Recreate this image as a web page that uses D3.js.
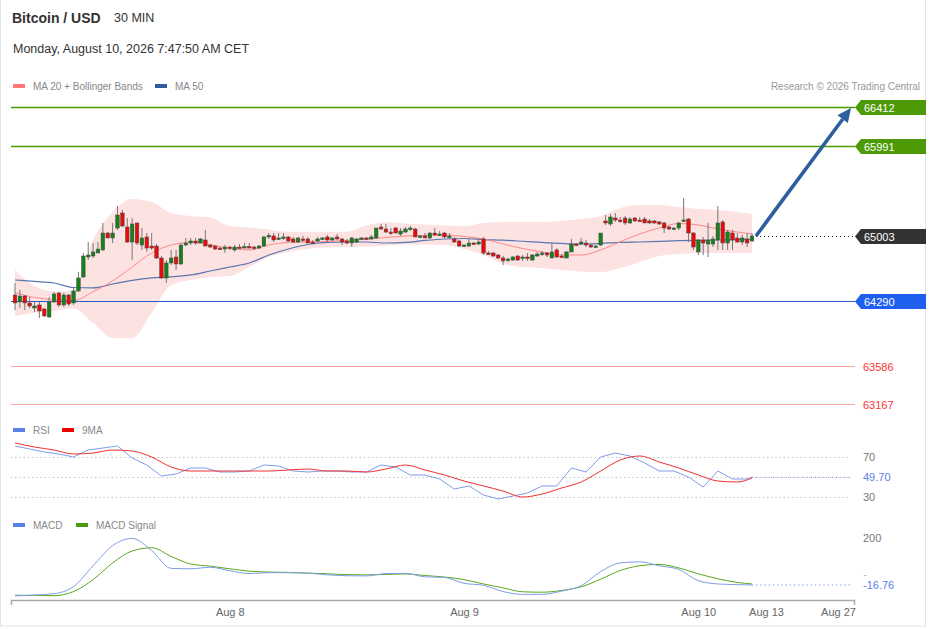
<!DOCTYPE html>
<html>
<head>
<meta charset="utf-8">
<script src="https://cdn.jsdelivr.net/npm/d3@7"></script>
<style>
  body { margin: 0; background: #fff; }
  svg { font-family: "Liberation Sans", Arial, sans-serif; display: block; }
</style>
</head>
<body>
<div id="chart"></div>
<script>
// ---- data ----
// 30 min candles from Aug 7 02:00, [open, high, low, close]
var candles = [
  [64358,64489,64194,64271],[64282,64413,64216,64347],[64347,64358,64194,64271],[64271,64336,64216,64238],
  [64216,64282,64172,64238],[64249,64282,64107,64183],[64205,64216,64118,64129],[64118,64336,64107,64282],
  [64282,64391,64271,64369],[64380,64391,64227,64249],[64249,64380,64227,64358],[64358,64369,64238,64260],
  [64271,64435,64249,64402],[64402,64610,64391,64544],[64555,64817,64544,64784],[64773,64937,64740,64795],
  [64784,64926,64762,64828],[64817,64937,64817,64860],[64850,65145,64839,65035],[65035,65046,64981,64981],
  [64981,65145,64926,65035],[65090,65330,65068,65232],[65254,65287,65101,65112],[65101,65199,64926,64937],
  [64937,65199,64740,65134],[65145,65145,64904,64926],[64904,65090,64850,64981],[64992,65035,64828,64871],
  [64893,65035,64850,64871],[64893,64915,64751,64762],[64762,64784,64533,64544],[64544,64740,64489,64708],
  [64708,64850,64686,64762],[64773,64850,64631,64697],[64697,64926,64686,64904],[64904,64981,64893,64926],
  [64926,64981,64904,64948],[64948,64981,64904,64926],[64926,64981,64926,64970],[64959,65068,64893,64893],
  [64904,64915,64871,64882],[64893,64904,64850,64860],[64871,64882,64850,64860],[64860,64904,64817,64882],
  [64882,64893,64850,64871],[64850,64904,64828,64882],[64882,64915,64860,64871],[64882,64926,64871,64887],
  [64887,64926,64871,64882],[64882,64893,64850,64871],[64871,64904,64860,64893],[64893,65003,64882,64992],
  [64992,65035,64970,65008],[65003,65035,64937,64959],[64970,65035,64959,64981],[64981,65035,64959,64992],
  [64992,65003,64937,64948],[64970,64992,64926,64937],[64937,64992,64926,64981],[64970,65003,64937,64959],
  [64970,64992,64926,64926],[64937,64959,64915,64926],[64948,64992,64937,64970],[64970,64992,64959,64981],
  [64992,65014,64937,64959],[64959,64992,64948,64981],[64992,65024,64959,64970],[64970,64981,64904,64937],
  [64948,64970,64915,64926],[64926,64992,64882,64981],[64937,64981,64926,64970],[64970,64992,64959,64981],
  [64981,64992,64959,64970],[64970,65014,64959,64992],[64981,65090,64970,65090],[65101,65134,65068,65079],
  [65079,65134,65035,65046],[65046,65090,65014,65035],[65090,65101,65035,65035],[65024,65090,65003,65057],
  [65046,65101,65035,65079],[65079,65112,65057,65090],[65079,65090,64992,64992],[64992,65014,64981,65003],
  [65003,65035,64981,64981],[64981,65046,64970,65035],[65035,65090,65003,65014],[65014,65057,65003,65024],
  [65035,65046,64981,64992],[64992,65035,64970,65003],[64970,64992,64926,64937],[64948,64959,64882,64893],
  [64893,64915,64882,64904],[64893,64970,64882,64926],[64926,64937,64904,64915],[64915,64981,64904,64937],
  [64970,64992,64795,64817],[64817,64839,64795,64806],[64817,64828,64773,64784],[64795,64806,64751,64762],
  [64762,64784,64686,64730],[64740,64762,64719,64751],[64740,64784,64730,64773],[64784,64795,64730,64740],
  [64762,64795,64730,64773],[64773,64817,64730,64762],[64740,64806,64730,64795],[64784,64828,64773,64806],
  [64806,64839,64784,64817],[64817,64828,64773,64795],[64762,64926,64762,64828],[64850,64871,64762,64773],
  [64784,64806,64762,64773],[64762,64839,64762,64828],[64828,64970,64828,64915],[64915,64926,64893,64904],
  [64915,64981,64904,64937],[64926,64959,64882,64904],[64904,64915,64871,64882],[64882,64904,64871,64893],
  [64904,65035,64893,65035],[65167,65232,65123,65145],[65134,65243,65112,65210],[65199,65254,65156,65177],
  [65177,65210,65145,65167],[65199,65221,65123,65145],[65145,65210,65134,65188],[65199,65210,65156,65167],
  [65177,65210,65156,65167],[65188,65210,65145,65145],[65167,65188,65134,65145],[65167,65177,65134,65145],
  [65156,65167,65123,65134],[65145,65156,65035,65090],[65101,65112,65068,65079],[65079,65101,65068,65090],
  [65090,65156,65068,65145],[65167,65418,65156,65177],[65188,65199,64937,65035],[65035,65046,64850,64882],
  [64828,64970,64795,64959],[64959,64992,64795,64926],[64915,65145,64773,64959],[64915,65003,64882,64970],
  [64959,65330,64850,65145],[65156,65177,64850,64926],[64926,65068,64850,65046],[65035,65068,64850,64959],
  [64981,65035,64926,64937],[64937,65014,64904,64981],[64970,65035,64882,64926],[64948,65035,64937,65003]
];

// indicator values sampled every 4th candle (last one = final candle)
var ma20 = [64383,64331,64306,64298,64394,64511,64664,64817,64904,64932,64910,64866,64850,64904,64932,64937,
  64943,64954,64967,64986,65003,65008,65014,64997,64970,64915,64866,64828,64795,64795,64850,64940,65025,65090,
  65139,65123,65079,65046,65025];
var ma50 = [64522,64506,64489,64440,64435,64478,64517,64544,64555,64577,64620,64664,64708,64795,64861,64910,
  64932,64937,64937,64926,64932,64954,64970,64975,64964,64957,64945,64932,64921,64915,64921,64932,64937,64943,
  64951,64955,64959,64962,64967];
var bbUpper = [64631,64456,64396,64413,64959,65265,65407,65374,65254,65221,65205,65112,65096,65074,65050,65050,
  65050,65050,65117,65152,65139,65128,65117,65112,65145,65156,65156,65156,65167,65188,65221,65309,65341,65341,
  65319,65298,65287,65265,65243];
var bbLower = [64129,64164,64183,64211,64052,63888,63888,64161,64467,64522,64555,64566,64664,64773,64828,64861,
  64877,64886,64886,64899,64910,64910,64904,64861,64795,64697,64664,64653,64631,64615,64609,64653,64719,64784,
  64806,64817,64817,64817,64817];
var rsiMa = [84,80,77,73,74,77,76,70,60,56,56,56,56,56,57,58,56,56,55,58,62,57,52,46,41,36,30,33,39,45,56,67,
  71,65,59,52,46,45,49];
var macd = [-67,-63,-57,-24,72,165,198,142,60,58,65,49,36,40,40,38,30,26,25,36,37,21,18,-9,-18,-47,-60,-60,
  -45,-20,45,85,90,72,55,3,-12,-15,-16.76];
var macdSignal = [-64,-65,-66,-47,8,85,140,155,115,80,70,58,47,43,41,38,35,31,30,32,34,27,20,8,-12,-30,-48,
  -50,-42,-25,10,50,72,78,62,35,12,-5,-12];

// RSI sampled every 3rd candle (last one = final candle)
var rsi = [81,78,75,73,70,77,79,81,69,62,51,53,59,59,55,55,56,62,61,56,55,56,56,55,55,62,60,52,52,48,38,41,
  32,28,31,34,41,41,59,55,70,74,71,64,56,56,50,40,56,48,48,49.7];

var levels = [66412, 65991, 65003, 64290, 63586, 63167];
var levelKinds = ["resistance", "resistance", "last", "pivot", "support", "support"];
var rsiTicks = [70, 49.70, 30];
var macdTicks = [200, -16.76];
var dateTicks = [new Date(2026,7,8), new Date(2026,7,9), new Date(2026,7,10), new Date(2026,7,13), new Date(2026,7,27)];

// ---- layout ----
var width = 929, height = 629;
var labelX = 855;

var svg = d3.select("#chart").append("svg")
    .attr("width", width)
    .attr("height", height);

svg.append("rect")
    .attr("x", 0.5).attr("y", -2)
    .attr("width", 925).attr("height", 628)
    .attr("fill", "#fff")
    .attr("stroke", "#dfe5ec");

var base = new Date(2026, 7, 7, 0, 0);
function hrs(h) { return new Date(base.getTime() + h * 3600e3); }
function candleTime(i) { return hrs(2 + i * 0.5); }
var last = candles.length - 1;

// polylinear: history gets most of the width, future is compressed
var x = d3.scaleTime()
    .domain([hrs(1.6), hrs(2), candleTime(last), new Date(2026,7,13), new Date(2026,7,27), new Date(2026,7,30)])
    .range([11, 15, 752, 766, 838, 854]);

var y = d3.scaleLinear().domain([63167, 66412]).range([404, 107]);
var yRsi = d3.scaleLinear().domain([30, 70]).range([497, 457]);
var yMacd = d3.scaleLinear().domain([-16.76, 200]).range([585, 538]);

function sampled(arr, step) {
  return arr.map(function (v, k) {
    var i = (k === arr.length - 1) ? last : k * step;
    return { t: candleTime(i), v: v };
  });
}

// ---- header ----
svg.append("text").attr("x", 12).attr("y", 23)
    .attr("font-size", "14px").attr("font-weight", "bold").attr("fill", "#333")
    .text("Bitcoin / USD");
svg.append("text").attr("x", 114).attr("y", 22)
    .attr("font-size", "12.5px").attr("fill", "#333")
    .text("30 MIN");
svg.append("text").attr("x", 13).attr("y", 53)
    .attr("font-size", "12.5px").attr("fill", "#333")
    .text("Monday, August 10, 2026 7:47:50 AM CET");
svg.append("text").attr("x", 920).attr("y", 90)
    .attr("text-anchor", "end").attr("font-size", "10px").attr("fill", "#999")
    .text("Research \u00a9 2026 Trading Central");

function legend(items, yy) {
  var g = svg.append("g");
  items.forEach(function (d) {
    g.append("rect").attr("x", d[0]).attr("y", yy - 2).attr("width", 12).attr("height", 4).attr("fill", d[2]);
    g.append("text").attr("x", d[0] + 20).attr("y", yy + 4)
        .attr("font-size", "10px").attr("fill", "#888").text(d[1]);
  });
}
legend([[13, "MA 20 + Bollinger Bands", "#f77"], [155, "MA 50", "#2f5c9e"]], 86);
legend([[13, "RSI", "#5b80e6"], [62, "9MA", "#e00"]], 430);
legend([[13, "MACD", "#5b80e6"], [76, "MACD Signal", "#4a9a0a"]], 525);

// ---- price panel ----
var bbData = bbUpper.map(function (v, k) {
  var i = (k === bbUpper.length - 1) ? last : k * 4;
  return { t: candleTime(i), hi: v, lo: bbLower[k] };
});
svg.append("path")
    .datum(bbData)
    .attr("fill", "#fde2e2")
    .attr("d", d3.area().curve(d3.curveMonotoneX)
        .x(function (d) { return x(d.t); })
        .y0(function (d) { return y(d.lo); })
        .y1(function (d) { return y(d.hi); }));

var lineP = d3.line().curve(d3.curveMonotoneX)
    .x(function (d) { return x(d.t); })
    .y(function (d) { return y(d.v); });

svg.append("path").datum(sampled(ma50, 4))
    .attr("fill", "none").attr("stroke", "#3b63a6").attr("stroke-width", 1.2).attr("opacity", 0.85)
    .attr("d", lineP);
svg.append("path").datum(sampled(ma20, 4))
    .attr("fill", "none").attr("stroke", "#f88").attr("stroke-width", 1)
    .attr("d", lineP);

// level lines
var levelColor = { resistance: "#4d9a06", last: "#333", pivot: "#1f5ff0", support: "#f33" };
levels.forEach(function (v, k) {
  var kind = levelKinds[k], yy = Math.round(y(v)) + 0.5;
  if (kind === "last") {
    svg.append("line").attr("x1", x(candleTime(last)) + 4).attr("x2", labelX)
        .attr("y1", yy).attr("y2", yy)
        .attr("stroke", "#333").attr("stroke-dasharray", "1,3");
  } else {
    svg.append("line").attr("x1", x.range()[0]).attr("x2", labelX)
        .attr("y1", yy).attr("y2", yy)
        .attr("stroke", kind === "resistance" ? "#4d9a06" : kind === "pivot" ? "#2a5bc8" : "#f7a5a5")
        .attr("stroke-width", kind === "resistance" ? 1.6 : 1);
  }
  if (kind === "support") {
    svg.append("text").attr("x", labelX + 8).attr("y", yy + 4)
        .attr("font-size", "11px").attr("fill", "#f33").text(v);
  } else {
    svg.append("path")
        .attr("d", "M" + labelX + "," + yy + "L" + (labelX + 6) + "," + (yy - 7.5) + "H926V" + (yy + 7.5) + "H" + (labelX + 6) + "Z")
        .attr("fill", levelColor[kind]);
    svg.append("text").attr("x", labelX + 9).attr("y", yy + 4)
        .attr("font-size", "11px").attr("fill", "#fff").text(v);
  }
});

// candles
var bw = 3.6;
var cg = svg.append("g");
cg.selectAll("line.wick")
  .data(candles)
  .enter().append("line")
    .attr("class", "wick")
    .attr("x1", function (d, i) { return x(candleTime(i)); })
    .attr("x2", function (d, i) { return x(candleTime(i)); })
    .attr("y1", function (d) { return y(d[1]); })
    .attr("y2", function (d) { return y(d[2]); })
    .attr("stroke", "#777").attr("stroke-width", 1);
cg.selectAll("rect.body")
  .data(candles)
  .enter().append("rect")
    .attr("class", "body")
    .attr("x", function (d, i) { return x(candleTime(i)) - bw / 2; })
    .attr("y", function (d) { return y(Math.max(d[0], d[3])); })
    .attr("width", bw)
    .attr("height", function (d) { return Math.max(1.5, Math.abs(y(d[0]) - y(d[3]))); })
    .attr("fill", function (d) { return d[3] >= d[0] ? "#16801a" : "#ea0a0a"; })
    .attr("stroke", "#4a4a4a").attr("stroke-width", 0.5);

// projection arrow from last close to the first target
var ax0 = x(candleTime(last)) + 4, ay0 = y(candles[last][3]);
var ax1 = labelX - 4, ay1 = y(levels[0]) + 1;
var ang = Math.atan2(ay1 - ay0, ax1 - ax0), hl = 14, hw = 6.5;
var bx = ax1 - hl * Math.cos(ang), by = ay1 - hl * Math.sin(ang);
svg.append("line").attr("x1", ax0).attr("y1", ay0).attr("x2", bx).attr("y2", by)
    .attr("stroke", "#2d5f9f").attr("stroke-width", 3.6);
svg.append("path")
    .attr("d", "M" + ax1 + "," + ay1 +
      "L" + (bx + hw * Math.sin(ang)) + "," + (by - hw * Math.cos(ang)) +
      "L" + (bx - hw * Math.sin(ang)) + "," + (by + hw * Math.cos(ang)) + "Z")
    .attr("fill", "#2d5f9f");

// ---- RSI panel ----
[70, 50, 30].forEach(function (v) {
  svg.append("line").attr("x1", 11).attr("x2", 850)
      .attr("y1", Math.round(yRsi(v)) + 0.5).attr("y2", Math.round(yRsi(v)) + 0.5)
      .attr("stroke", "#bbb").attr("stroke-dasharray", "1.2,3");
});
svg.append("line").attr("x1", x(candleTime(last))).attr("x2", 850)
    .attr("y1", yRsi(rsi[rsi.length - 1])).attr("y2", yRsi(rsi[rsi.length - 1]))
    .attr("stroke", "#6a8ee8").attr("stroke-dasharray", "1.2,3");

var lineR = d3.line()
    .x(function (d) { return x(d.t); })
    .y(function (d) { return yRsi(d.v); });
svg.append("path").datum(sampled(rsi, 3))
    .attr("fill", "none").attr("stroke", "#7f9de8").attr("stroke-width", 1)
    .attr("d", lineR);
svg.append("path").datum(sampled(rsiMa, 4))
    .attr("fill", "none").attr("stroke", "#f03030").attr("stroke-width", 1)
    .attr("d", lineR.curve(d3.curveMonotoneX));

rsiTicks.forEach(function (v, k) {
  svg.append("text").attr("x", 863).attr("y", yRsi(v) + 4)
      .attr("font-size", "11px").attr("fill", k === 1 ? "#5b80e6" : "#777")
      .text(k === 1 ? v.toFixed(2) : v);
});

// ---- MACD panel ----
svg.append("line").attr("x1", x(candleTime(last))).attr("x2", 850)
    .attr("y1", yMacd(macd[macd.length - 1])).attr("y2", yMacd(macd[macd.length - 1]))
    .attr("stroke", "#6a8ee8").attr("stroke-dasharray", "1.2,3");

var lineM = d3.line().curve(d3.curveMonotoneX)
    .x(function (d) { return x(d.t); })
    .y(function (d) { return yMacd(d.v); });
svg.append("path").datum(sampled(macdSignal, 4))
    .attr("fill", "none").attr("stroke", "#5aa81e").attr("stroke-width", 1)
    .attr("d", lineM);
svg.append("path").datum(sampled(macd, 4))
    .attr("fill", "none").attr("stroke", "#7f9de8").attr("stroke-width", 1)
    .attr("d", lineM);

svg.append("text").attr("x", 863).attr("y", yMacd(macdTicks[0]) + 4)
    .attr("font-size", "11px").attr("fill", "#777").text(macdTicks[0]);
// zero tick, squeezed just above the last value label as in the original
svg.append("text").attr("x", 864).attr("y", yMacd(0) - 4.5)
    .attr("font-size", "8px").attr("fill", "#777").text("-");
svg.append("text").attr("x", 863).attr("y", yMacd(macdTicks[1]) + 4)
    .attr("font-size", "11px").attr("fill", "#5b80e6").text(macdTicks[1].toFixed(2));

// ---- time axis ----
var xAxis = svg.append("g")
    .attr("transform", "translate(0,600)")
    .call(d3.axisBottom(x)
        .tickValues(dateTicks)
        .tickFormat(d3.timeFormat("%b %-d"))
        .tickSizeInner(0)
        .tickSizeOuter(5)
        .tickPadding(8));
xAxis.select(".domain").attr("stroke", "#aaa").attr("stroke-width", 1.5);
xAxis.selectAll("text").attr("fill", "#666").attr("font-size", "11px")
    .attr("font-family", "'Liberation Sans', Arial, sans-serif");
</script>
</body>
</html>
